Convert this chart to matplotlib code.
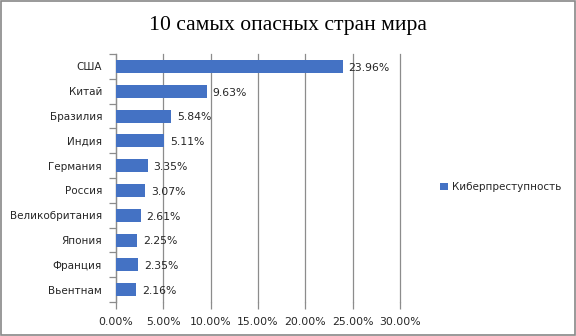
import numpy as np
import matplotlib.pyplot as plt
from matplotlib.patches import Rectangle
from matplotlib.ticker import FixedLocator, MultipleLocator, PercentFormatter

countries = ['США', 'Китай', 'Бразилия', 'Индия', 'Германия', 'Россия',
             'Великобритания', 'Япония', 'Франция', 'Вьентнам']
values = [23.96, 9.63, 5.84, 5.11, 3.35, 3.07, 2.61, 2.25, 2.35, 2.16]
series_name = 'Киберпреступность'

plt.rcParams['font.family'] = ['DejaVu Sans']

fig = plt.figure(figsize=(5.76, 3.36), dpi=100)
ax = fig.add_axes([0.2014, 0.101, 0.4931, 0.738])

y = np.arange(len(countries))
bars = ax.barh(y, values, height=0.52, color='#4472C4', label=series_name, zorder=3)

for yi, v in zip(y, values):
    ax.text(v + 0.6, yi + 0.05, f'{v:.2f}%', va='center', ha='left',
            fontsize=7.8, color='#262626', zorder=4)

ax.set_xlim(0, 30)
ax.set_ylim(len(countries) - 0.5, -0.5)
ax.xaxis.set_major_locator(MultipleLocator(5))
ax.xaxis.set_major_formatter(PercentFormatter(decimals=2))
ax.set_yticks(y)
ax.set_yticklabels(countries)
ax.yaxis.set_minor_locator(FixedLocator(np.arange(-0.5, len(countries), 1)))

ax.grid(axis='x', color='#8C8C8C', linewidth=0.9, zorder=0)
for line in ax.get_xgridlines():
    line.set_clip_on(False)
for s in ['top', 'right', 'bottom']:
    ax.spines[s].set_visible(False)
ax.spines['left'].set_color('#8C8C8C')
ax.spines['left'].set_linewidth(0.9)

ax.tick_params(axis='x', length=5, width=0.9, color='#8C8C8C', labelsize=7.8,
               labelcolor='#262626', pad=6)
ax.tick_params(axis='y', which='major', length=0, labelsize=7.5,
               labelcolor='#262626', pad=10)
ax.tick_params(axis='y', which='minor', length=5, width=0.9, color='#8C8C8C')

fig.text(0.5, 0.925, '10 самых опасных стран мира', ha='center', va='center',
         fontsize=15.6, family='Liberation Serif', color='black')

fig.legend(handles=[bars], labels=[series_name], loc='center left',
           bbox_to_anchor=(0.748, 0.443), frameon=False, fontsize=7.5,
           handlelength=0.75, handleheight=0.75, handletextpad=0.4,
           labelcolor='#262626')

fig.patches.append(Rectangle((0.001, 0.002), 0.997, 0.995, transform=fig.transFigure,
                             fill=False, edgecolor='#888888', linewidth=1.2))

fig.savefig('out.png', dpi=100)
